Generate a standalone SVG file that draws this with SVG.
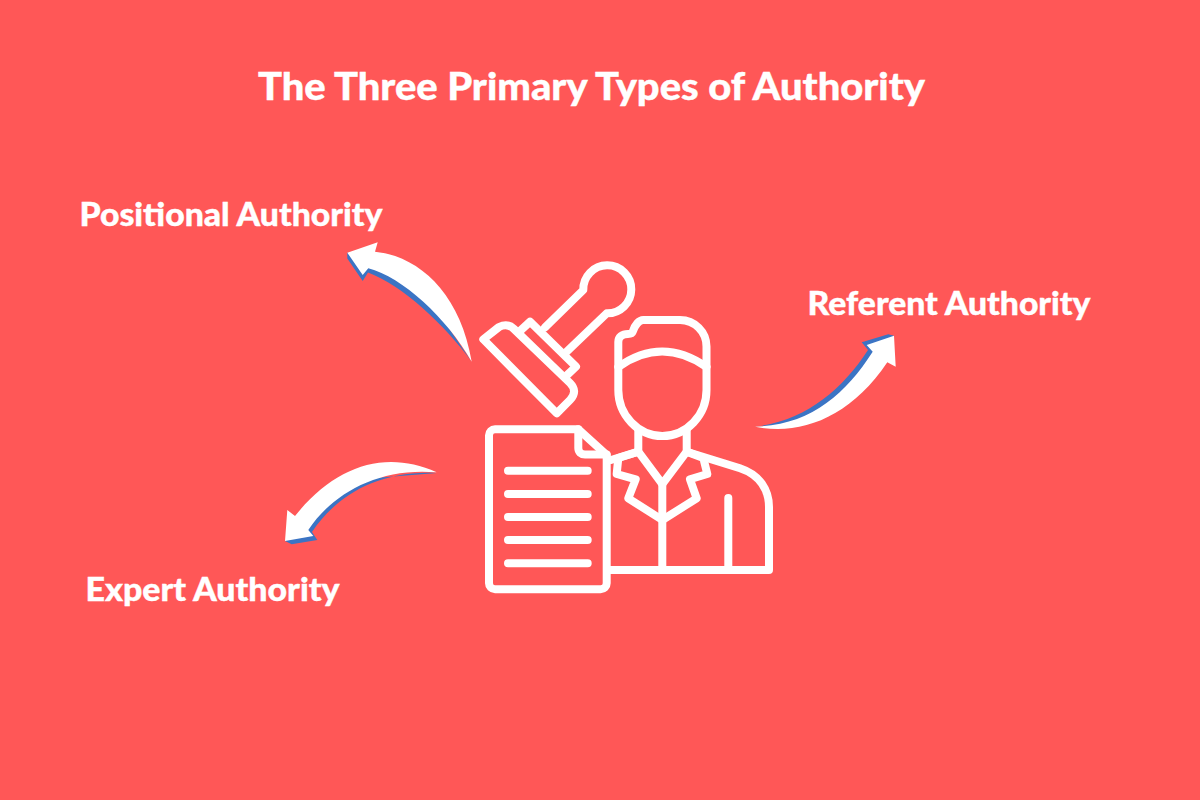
<svg xmlns="http://www.w3.org/2000/svg" width="1200" height="800" viewBox="0 0 1200 800">
<style>
.t{font-family:"Lato","Liberation Sans",sans-serif;font-weight:900;fill:#fff;stroke:#fff;stroke-width:.4}
.i{fill:none;stroke:#fff;stroke-width:8;stroke-linecap:round;stroke-linejoin:round}
.w{fill:#fff}.b{fill:#3b74c4}
</style>
<rect width="1200" height="800" fill="#ff5757"/>
<g id="title"><text class="t" x="591.5" y="100" font-size="38" text-anchor="middle" textLength="667" lengthAdjust="spacingAndGlyphs">The Three Primary Types of Authority</text></g>
<g id="positional"><text class="t" x="79.5" y="226" font-size="32" textLength="303" lengthAdjust="spacingAndGlyphs">Positional Authority</text></g>
<g id="referent"><text class="t" x="807.5" y="315" font-size="32" textLength="283" lengthAdjust="spacingAndGlyphs">Referent Authority</text></g>
<g id="expert"><text class="t" x="85.5" y="601" font-size="32" textLength="254" lengthAdjust="spacingAndGlyphs">Expert Authority</text></g>
<g id="icon" class="i">
<path d="M545,327.3L583.3,290A24,24 0 1 1 606.7,313.3L566.7,351.7"/>
<path d="M520,331L530,321.7L576,366.7L565,377"/>
<path d="M483.3,339.3L556.7,413.3L570,400C576,394 575,388 570,383L514,329C509,324 503,325 499,327Z"/>
<path d="M643.3,320H680A26.5,26.5 0 0 1 706.5,346.5V390C706.5,415 687,436 662.3,436C638,436 618.3,415 618.3,390V342C618.3,337 622,334 628,334C633,334 632,333 633,331C635,325 639,320 643.3,320Z"/>
<path d="M618.3,367Q662,336 706.5,367"/>
<path d="M638.3,430V451.7L662.3,484L686.7,451.7V430"/>
<path d="M638.3,451.7L618.3,458L616.7,474L635.7,479.3L628.3,498.3L662.3,520L696.7,498.3L690,479.3L707.3,474L703.3,458L686.7,451.7"/>
<path d="M611,460L638.3,451.7M686.7,451.7L740,468.3C760,475 769,490 769,507V570H610"/>
<path d="M662.3,484V570M728.3,498V570"/>
<path d="M578.3,429.3H495A6,6 0 0 0 489,435.3V583.3A6,6 0 0 0 495,589.3H600.7A6,6 0 0 0 606.7,583.3V455Z"/>
<path d="M578.3,429.3V448C578.3,452 581,454.5 585,454.5H606.7"/>
<path d="M508,470.7H587.7M508,494H587.7M508,517H587.7M508,540H587.7M508,563.3H587.7"/>
</g>
<g id="connectors">
<path class="b" d="M471.7,361.7C445,325 402,285 368,272.5L362.7,281L347.3,258.5L347.3,252.7L375,255L440,315Z"/>
<path class="w" d="M471.7,361.7C460,292 418,256 375,251.7L377.7,242.3L347.3,252.7L362.7,275L368.3,268.3C402,277 447,318 471.7,361.7Z"/>
<path class="b" d="M755,426.7C805,421 842,390 868,350L861.7,342.3L888.3,334.3L894,335.7L875,365L800,425Z"/>
<path class="w" d="M755,426.7C810,425 845,395 872.7,351.7L866.7,345L894,335.7L895.7,366.7L887.3,362.3C850,418 800,436 755,426.7Z"/>
<path class="b" d="M436.7,473C378,470 336,496 312,532L317.3,540L291.7,544.3L285,541L300,525L350,480Z"/>
<path class="w" d="M436.7,472.3C385,449 335,466 295,516L287.3,510L285,541L313.3,536L308.3,530C332,494 378,467 436.7,472.3Z"/>
</g>
</svg>
